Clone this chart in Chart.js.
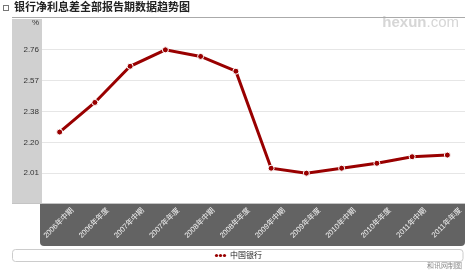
<!DOCTYPE html>
<html>
<head>
<meta charset="utf-8">
<script src="https://cdn.jsdelivr.net/npm/chart.js@4/dist/chart.umd.min.js"></script>
<style>
  html, body { margin: 0; padding: 0; background: #fff; }
  #wrap { width: 470px; height: 270px; }
</style>
</head>
<body>
<div id="wrap"><canvas id="chart" width="470" height="270"></canvas></div>
<script>
// 报告期
const categories = [
  '2006年中期', '2006年年度', '2007年中期', '2007年年度',
  '2008年中期', '2008年年度', '2009年中期', '2009年年度',
  '2010年中期', '2010年年度', '2011年中期', '2011年年度'
];
// 中国银行 净利息差 (%)
const bocValues = [2.26, 2.44, 2.66, 2.76, 2.72, 2.63, 2.04, 2.01, 2.04, 2.07, 2.11, 2.12];

const yTickValues = [2.01, 2.1975, 2.385, 2.5725, 2.76];
const yTickLabels = ['2.01', '2.20', '2.38', '2.57', '2.76'];
const yMin = 1.8225;
const yMax = 2.9475;

const titleText = '银行净利息差全部报告期数据趋势图';
const sourceText = '和讯网制图';
const unitText = '%';

const FONT = '"Liberation Sans", "Noto Sans CJK SC", sans-serif';

function roundRect(ctx, x, y, w, h, r, topR) {
  ctx.beginPath();
  ctx.moveTo(x + topR, y);
  ctx.lineTo(x + w - topR, y);
  ctx.arcTo(x + w, y, x + w, y + topR, topR);
  ctx.lineTo(x + w, y + h - r);
  ctx.arcTo(x + w, y + h, x + w - r, y + h, r);
  ctx.lineTo(x + r, y + h);
  ctx.arcTo(x, y + h, x, y + h - r, r);
  ctx.lineTo(x, y + topR);
  ctx.arcTo(x, y, x + topR, y, topR);
  ctx.closePath();
}

// backgrounds, title, legend and footer
const framePlugin = {
  id: 'frame',
  beforeDraw(chart) {
    const ctx = chart.ctx;
    const a = chart.chartArea;
    ctx.save();
    ctx.fillStyle = '#fff';
    ctx.fillRect(0, 0, chart.width, chart.height);

    // title
    ctx.strokeStyle = '#777';
    ctx.lineWidth = 1;
    ctx.strokeRect(3.5, 5.5, 5, 5);
    ctx.fillStyle = '#222';
    ctx.font = 'bold 11px ' + FONT;
    ctx.textBaseline = 'middle';
    ctx.textAlign = 'left';
    ctx.fillText(titleText, 14, 8);

    // watermark
    ctx.textBaseline = 'alphabetic';
    ctx.textAlign = 'right';
    ctx.fillStyle = '#d6d6d6';
    ctx.font = '15px ' + FONT;
    const comW = ctx.measureText('.com').width;
    ctx.fillText('.com', 459, 27);
    ctx.font = 'bold 15px ' + FONT;
    ctx.fillText('hexun', 459 - comW, 27);

    // line under title
    ctx.strokeStyle = '#aaa';
    ctx.beginPath();
    ctx.moveTo(12, 17.5);
    ctx.lineTo(a.right, 17.5);
    ctx.stroke();

    // y axis band
    ctx.fillStyle = '#d0d0d0';
    ctx.fillRect(12, a.top, a.left - 12, a.bottom - a.top);
    ctx.strokeStyle = '#c4c4c4';
    ctx.beginPath();
    ctx.moveTo(12, a.bottom - 0.5);
    ctx.lineTo(a.right, a.bottom - 0.5);
    ctx.stroke();

    // x axis band
    ctx.fillStyle = '#636363';
    roundRect(ctx, a.left - 2, a.bottom, a.right - a.left + 2, 42, 4, 0);
    ctx.fill();

    // unit
    ctx.fillStyle = '#333';
    ctx.font = '8px ' + FONT;
    ctx.textAlign = 'right';
    ctx.textBaseline = 'middle';
    ctx.fillText(unitText, a.left - 3, a.top + 4);
    ctx.restore();
  },
  afterDraw(chart) {
    const ctx = chart.ctx;
    const a = chart.chartArea;
    const ds = chart.data.datasets[0];
    ctx.save();

    // legend box
    ctx.strokeStyle = '#cccccc';
    ctx.lineWidth = 1;
    roundRect(ctx, 12.5, 249.5, a.right - 12.5 - 2, 12, 3, 3);
    ctx.stroke();

    ctx.font = '8px ' + FONT;
    const labelW = ctx.measureText(ds.label).width;
    const total = 12 + 3 + labelW;
    let x = (12 + a.right) / 2 - total / 2;
    ctx.fillStyle = ds.borderColor;
    for (let i = 0; i < 3; i++) {
      ctx.beginPath();
      ctx.arc(x + 1.5 + i * 4, 255.5, 1.6, 0, Math.PI * 2);
      ctx.fill();
    }
    ctx.fillStyle = '#222';
    ctx.textAlign = 'left';
    ctx.textBaseline = 'middle';
    ctx.fillText(ds.label, x + 15, 255.5);

    // source
    ctx.fillStyle = '#888';
    ctx.font = '7px ' + FONT;
    ctx.textAlign = 'right';
    ctx.fillText(sourceText, a.right - 3, 266);
    ctx.restore();
  }
};

const ctx = document.getElementById('chart').getContext('2d');
new Chart(ctx, {
  type: 'line',
  data: {
    labels: categories,
    datasets: [
      {
        label: '中国银行',
        data: bocValues,
        borderColor: '#990000',
        backgroundColor: '#990000',
        borderWidth: 3,
        pointRadius: 3,
        pointBackgroundColor: '#990000',
        pointBorderColor: '#ffffff',
        pointBorderWidth: 1,
        tension: 0,
        clip: false
      }
    ]
  },
  options: {
    responsive: false,
    animation: false,
    events: [],
    layout: { padding: { top: 19, left: 12, right: 5, bottom: 24 } },
    scales: {
      x: {
        offset: true,
        grid: { display: false, drawTicks: false },
        border: { display: false },
        ticks: {
          autoSkip: false,
          minRotation: 45,
          maxRotation: 45,
          labelOffset: 13,
          padding: 2,
          color: '#f4f4f4',
          font: { family: FONT, size: 7.5 }
        },
        afterFit: (scale) => { scale.height = 42; }
      },
      y: {
        min: yMin,
        max: yMax,
        grid: { color: '#e6e6e6', lineWidth: 1, drawTicks: false },
        border: { display: false },
        afterBuildTicks: (scale) => {
          scale.ticks = yTickValues.map(v => ({ value: v }));
        },
        ticks: {
          padding: 3,
          color: '#333',
          font: { family: FONT, size: 8 },
          callback: (value, index) => yTickLabels[index]
        },
        afterFit: (scale) => { scale.width = 30; }
      }
    },
    plugins: {
      legend: { display: false },
      title: { display: false },
      tooltip: { enabled: false }
    }
  },
  plugins: [framePlugin]
});
</script>
</body>
</html>
